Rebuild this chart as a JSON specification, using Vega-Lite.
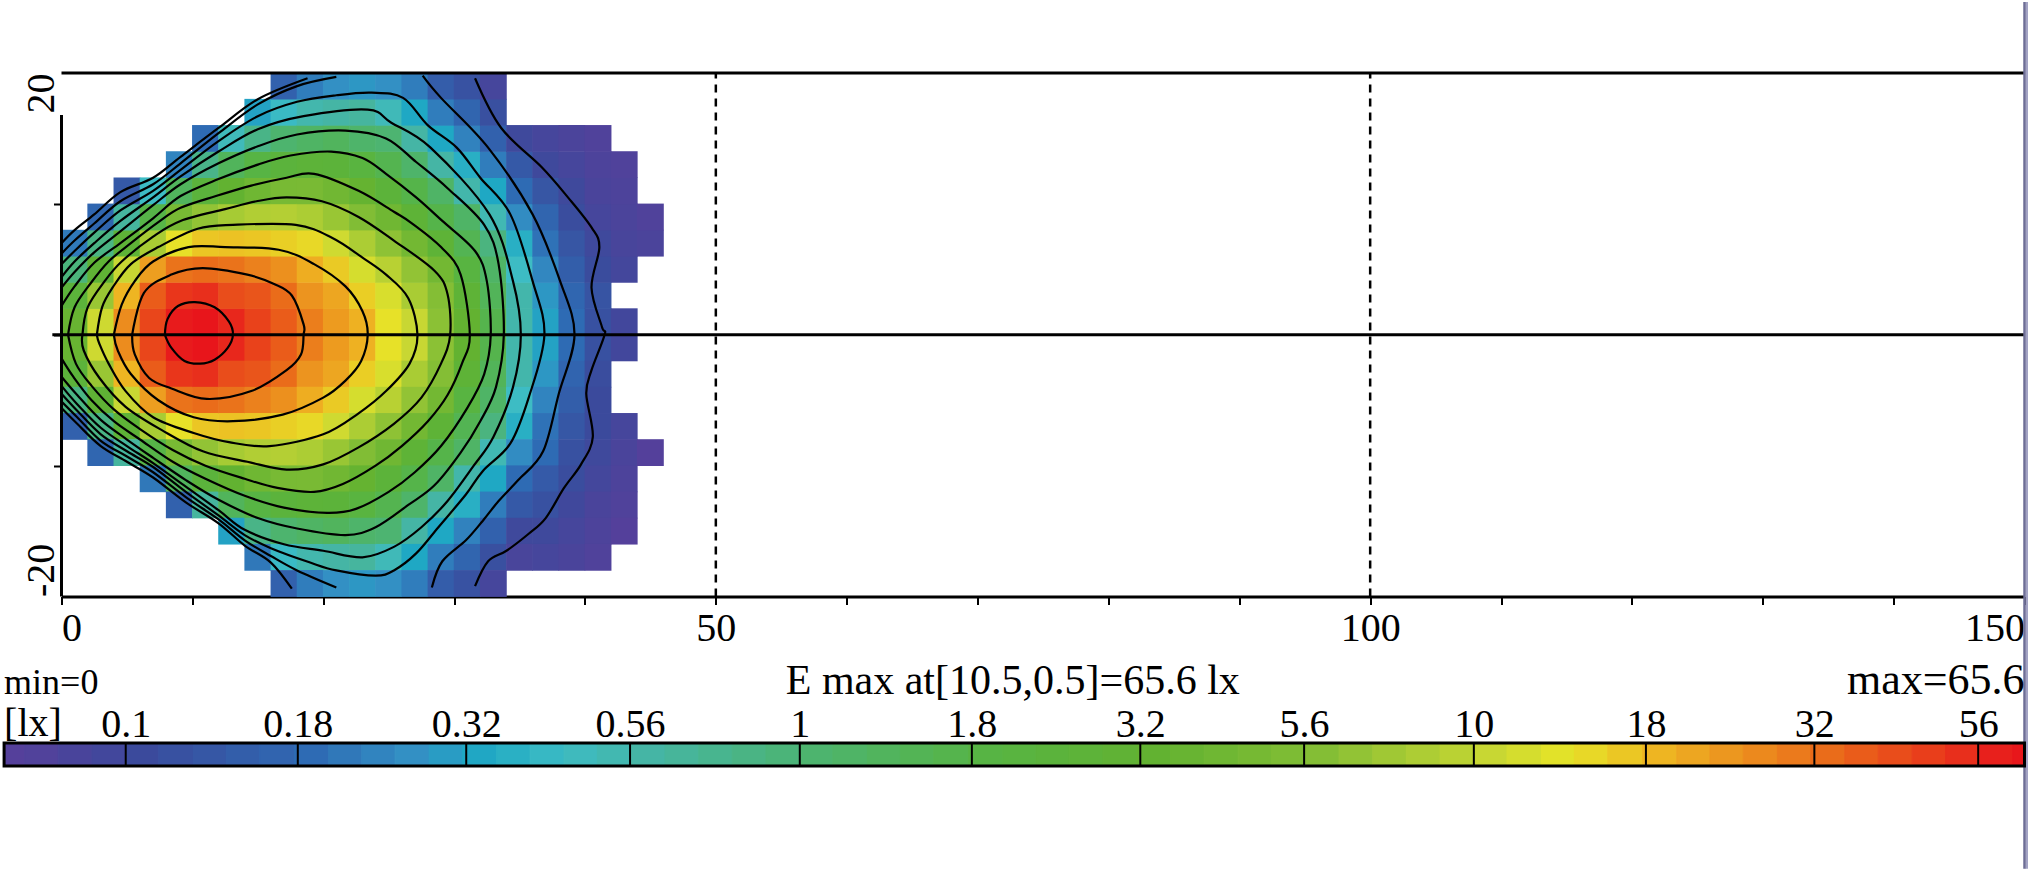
{"$schema":"https://vega.github.io/schema/vega-lite/v6.json","background":"white","padding":{"left":2.5,"top":0,"right":0,"bottom":0},"bounds":"flush","spacing":146,"config":{"view":{"stroke":null},"font":"Liberation Serif"},"vconcat":[{"width":1963,"height":523.6,"layer":[{"data":{"values":[{"x":1,"y":1,"v":3.55},{"x":1,"y":3,"v":2.3},{"x":1,"y":5,"v":0.87},{"x":1,"y":7,"v":0.205},{"x":1,"y":-1,"v":3.55},{"x":1,"y":-3,"v":2.3},{"x":1,"y":-5,"v":0.8},{"x":1,"y":-7,"v":0.15},{"x":3,"y":1,"v":10.5},{"x":3,"y":3,"v":6.7},{"x":3,"y":5,"v":2.8},{"x":3,"y":7,"v":0.79},{"x":3,"y":9,"v":0.163},{"x":3,"y":-1,"v":10.5},{"x":3,"y":-3,"v":6.7},{"x":3,"y":-5,"v":2.8},{"x":3,"y":-7,"v":0.79},{"x":3,"y":-9,"v":0.163},{"x":5,"y":1,"v":24.4},{"x":5,"y":3,"v":17.8},{"x":5,"y":5,"v":10},{"x":5,"y":7,"v":2.6},{"x":5,"y":9,"v":0.6},{"x":5,"y":11,"v":0.13},{"x":5,"y":-1,"v":24.4},{"x":5,"y":-3,"v":17.8},{"x":5,"y":-5,"v":10},{"x":5,"y":-7,"v":2.6},{"x":5,"y":-9,"v":0.6},{"x":7,"y":1,"v":42},{"x":7,"y":3,"v":35.5},{"x":7,"y":5,"v":21.2},{"x":7,"y":7,"v":7.7},{"x":7,"y":9,"v":1.68},{"x":7,"y":11,"v":0.42},{"x":7,"y":-1,"v":42},{"x":7,"y":-3,"v":35.5},{"x":7,"y":-5,"v":21.2},{"x":7,"y":-7,"v":7.7},{"x":7,"y":-9,"v":1.68},{"x":7,"y":-11,"v":0.2},{"x":9,"y":1,"v":59.5},{"x":9,"y":3,"v":47.3},{"x":9,"y":5,"v":29.9},{"x":9,"y":7,"v":13.3},{"x":9,"y":9,"v":4.6},{"x":9,"y":11,"v":1.26},{"x":9,"y":13,"v":0.225},{"x":9,"y":-1,"v":59.5},{"x":9,"y":-3,"v":47.3},{"x":9,"y":-5,"v":29.9},{"x":9,"y":-7,"v":13.3},{"x":9,"y":-9,"v":4.6},{"x":9,"y":-11,"v":1.26},{"x":9,"y":-13,"v":0.15},{"x":11,"y":1,"v":65},{"x":11,"y":3,"v":50},{"x":11,"y":5,"v":31.6},{"x":11,"y":7,"v":15.9},{"x":11,"y":9,"v":6.3},{"x":11,"y":11,"v":2.24},{"x":11,"y":13,"v":0.75},{"x":11,"y":15,"v":0.178},{"x":11,"y":-1,"v":65},{"x":11,"y":-3,"v":50},{"x":11,"y":-5,"v":31.6},{"x":11,"y":-7,"v":15.9},{"x":11,"y":-9,"v":6.3},{"x":11,"y":-11,"v":2.24},{"x":11,"y":-13,"v":0.6},{"x":13,"y":1,"v":53},{"x":13,"y":3,"v":39.8},{"x":13,"y":5,"v":29.9},{"x":13,"y":7,"v":16.3},{"x":13,"y":9,"v":7.5},{"x":13,"y":11,"v":3.16},{"x":13,"y":13,"v":1.3},{"x":13,"y":15,"v":0.46},{"x":13,"y":-1,"v":53},{"x":13,"y":-3,"v":39.8},{"x":13,"y":-5,"v":29.9},{"x":13,"y":-7,"v":16.3},{"x":13,"y":-9,"v":7.5},{"x":13,"y":-11,"v":3.16},{"x":13,"y":-13,"v":1.3},{"x":13,"y":-15,"v":0.3},{"x":15,"y":1,"v":43.4},{"x":15,"y":3,"v":37.6},{"x":15,"y":5,"v":26.6},{"x":15,"y":7,"v":15.9},{"x":15,"y":9,"v":8.2},{"x":15,"y":11,"v":3.98},{"x":15,"y":13,"v":1.78},{"x":15,"y":15,"v":0.77},{"x":15,"y":17,"v":0.3},{"x":15,"y":-1,"v":43.4},{"x":15,"y":-3,"v":37.6},{"x":15,"y":-5,"v":26.6},{"x":15,"y":-7,"v":15.9},{"x":15,"y":-9,"v":8.2},{"x":15,"y":-11,"v":3.98},{"x":15,"y":-13,"v":1.78},{"x":15,"y":-15,"v":0.77},{"x":15,"y":-17,"v":0.2},{"x":17,"y":1,"v":35.5},{"x":17,"y":3,"v":31.6},{"x":17,"y":5,"v":23.7},{"x":17,"y":7,"v":14.9},{"x":17,"y":9,"v":8.4},{"x":17,"y":11,"v":4.6},{"x":17,"y":13,"v":2.24},{"x":17,"y":15,"v":1},{"x":17,"y":17,"v":0.41},{"x":17,"y":19,"v":0.15},{"x":17,"y":-1,"v":35.5},{"x":17,"y":-3,"v":31.6},{"x":17,"y":-5,"v":23.7},{"x":17,"y":-7,"v":14.9},{"x":17,"y":-9,"v":8.4},{"x":17,"y":-11,"v":4.6},{"x":17,"y":-13,"v":2.24},{"x":17,"y":-15,"v":1},{"x":17,"y":-17,"v":0.41},{"x":17,"y":-19,"v":0.15},{"x":19,"y":1,"v":27.4},{"x":19,"y":3,"v":23},{"x":19,"y":5,"v":18.8},{"x":19,"y":7,"v":14.1},{"x":19,"y":9,"v":7.9},{"x":19,"y":11,"v":4.7},{"x":19,"y":13,"v":2.44},{"x":19,"y":15,"v":1.15},{"x":19,"y":17,"v":0.52},{"x":19,"y":19,"v":0.21},{"x":19,"y":-1,"v":27.4},{"x":19,"y":-3,"v":23},{"x":19,"y":-5,"v":18.8},{"x":19,"y":-7,"v":14.1},{"x":19,"y":-9,"v":7.9},{"x":19,"y":-11,"v":4.7},{"x":19,"y":-13,"v":2.44},{"x":19,"y":-15,"v":1.15},{"x":19,"y":-17,"v":0.52},{"x":19,"y":-19,"v":0.21},{"x":21,"y":1,"v":21.8},{"x":21,"y":3,"v":20},{"x":21,"y":5,"v":15.4},{"x":21,"y":7,"v":10.6},{"x":21,"y":9,"v":6.7},{"x":21,"y":11,"v":4.1},{"x":21,"y":13,"v":2.37},{"x":21,"y":15,"v":1.26},{"x":21,"y":17,"v":0.56},{"x":21,"y":19,"v":0.25},{"x":21,"y":-1,"v":21.8},{"x":21,"y":-3,"v":20},{"x":21,"y":-5,"v":15.4},{"x":21,"y":-7,"v":10.6},{"x":21,"y":-9,"v":6.7},{"x":21,"y":-11,"v":4.1},{"x":21,"y":-13,"v":2.37},{"x":21,"y":-15,"v":1.26},{"x":21,"y":-17,"v":0.56},{"x":21,"y":-19,"v":0.25},{"x":23,"y":1,"v":18.3},{"x":23,"y":3,"v":15},{"x":23,"y":5,"v":11.2},{"x":23,"y":7,"v":7.9},{"x":23,"y":9,"v":5.3},{"x":23,"y":11,"v":3.35},{"x":23,"y":13,"v":2},{"x":23,"y":15,"v":1.06},{"x":23,"y":17,"v":0.6},{"x":23,"y":19,"v":0.27},{"x":23,"y":-1,"v":18.3},{"x":23,"y":-3,"v":15},{"x":23,"y":-5,"v":11.2},{"x":23,"y":-7,"v":7.9},{"x":23,"y":-9,"v":5.3},{"x":23,"y":-11,"v":3.35},{"x":23,"y":-13,"v":2},{"x":23,"y":-15,"v":1.06},{"x":23,"y":-17,"v":0.6},{"x":23,"y":-19,"v":0.27},{"x":25,"y":1,"v":13.3},{"x":25,"y":3,"v":11.5},{"x":25,"y":5,"v":8.7},{"x":25,"y":7,"v":6.1},{"x":25,"y":9,"v":4},{"x":25,"y":11,"v":2.37},{"x":25,"y":13,"v":1.5},{"x":25,"y":15,"v":0.97},{"x":25,"y":17,"v":0.47},{"x":25,"y":19,"v":0.25},{"x":25,"y":-1,"v":13.3},{"x":25,"y":-3,"v":11.5},{"x":25,"y":-5,"v":8.7},{"x":25,"y":-7,"v":6.1},{"x":25,"y":-9,"v":4},{"x":25,"y":-11,"v":2.37},{"x":25,"y":-13,"v":1.5},{"x":25,"y":-15,"v":0.97},{"x":25,"y":-17,"v":0.47},{"x":25,"y":-19,"v":0.25},{"x":27,"y":1,"v":10},{"x":27,"y":3,"v":7.7},{"x":27,"y":5,"v":6.3},{"x":27,"y":7,"v":4.2},{"x":27,"y":9,"v":2.66},{"x":27,"y":11,"v":1.63},{"x":27,"y":13,"v":1.06},{"x":27,"y":15,"v":0.56},{"x":27,"y":17,"v":0.32},{"x":27,"y":19,"v":0.21},{"x":27,"y":-1,"v":10},{"x":27,"y":-3,"v":7.7},{"x":27,"y":-5,"v":6.3},{"x":27,"y":-7,"v":4.2},{"x":27,"y":-9,"v":2.66},{"x":27,"y":-11,"v":1.63},{"x":27,"y":-13,"v":1.06},{"x":27,"y":-15,"v":0.56},{"x":27,"y":-17,"v":0.32},{"x":27,"y":-19,"v":0.21},{"x":29,"y":1,"v":5.95},{"x":29,"y":3,"v":5.6},{"x":29,"y":5,"v":4.2},{"x":29,"y":7,"v":2.6},{"x":29,"y":9,"v":1.63},{"x":29,"y":11,"v":1.12},{"x":29,"y":13,"v":0.56},{"x":29,"y":15,"v":0.32},{"x":29,"y":17,"v":0.21},{"x":29,"y":19,"v":0.14},{"x":29,"y":-1,"v":5.95},{"x":29,"y":-3,"v":5.6},{"x":29,"y":-5,"v":4.2},{"x":29,"y":-7,"v":2.6},{"x":29,"y":-9,"v":1.63},{"x":29,"y":-11,"v":1.12},{"x":29,"y":-13,"v":0.56},{"x":29,"y":-15,"v":0.32},{"x":29,"y":-17,"v":0.21},{"x":29,"y":-19,"v":0.14},{"x":31,"y":1,"v":3.25},{"x":31,"y":3,"v":2.6},{"x":31,"y":5,"v":1.94},{"x":31,"y":7,"v":1.45},{"x":31,"y":9,"v":1.12},{"x":31,"y":11,"v":0.53},{"x":31,"y":13,"v":0.35},{"x":31,"y":15,"v":0.22},{"x":31,"y":17,"v":0.16},{"x":31,"y":19,"v":0.115},{"x":31,"y":-1,"v":3.25},{"x":31,"y":-3,"v":2.6},{"x":31,"y":-5,"v":1.94},{"x":31,"y":-7,"v":1.45},{"x":31,"y":-9,"v":1.12},{"x":31,"y":-11,"v":0.53},{"x":31,"y":-13,"v":0.35},{"x":31,"y":-15,"v":0.22},{"x":31,"y":-17,"v":0.16},{"x":31,"y":-19,"v":0.115},{"x":33,"y":1,"v":1.58},{"x":33,"y":3,"v":1.33},{"x":33,"y":5,"v":1.12},{"x":33,"y":7,"v":0.84},{"x":33,"y":9,"v":0.49},{"x":33,"y":11,"v":0.32},{"x":33,"y":13,"v":0.21},{"x":33,"y":15,"v":0.15},{"x":33,"y":17,"v":0.11},{"x":33,"y":19,"v":0.084},{"x":33,"y":-1,"v":1.58},{"x":33,"y":-3,"v":1.33},{"x":33,"y":-5,"v":1.12},{"x":33,"y":-7,"v":0.84},{"x":33,"y":-9,"v":0.49},{"x":33,"y":-11,"v":0.32},{"x":33,"y":-13,"v":0.21},{"x":33,"y":-15,"v":0.15},{"x":33,"y":-17,"v":0.11},{"x":33,"y":-19,"v":0.084},{"x":35,"y":1,"v":0.53},{"x":35,"y":3,"v":0.53},{"x":35,"y":5,"v":0.42},{"x":35,"y":7,"v":0.35},{"x":35,"y":9,"v":0.24},{"x":35,"y":11,"v":0.178},{"x":35,"y":13,"v":0.13},{"x":35,"y":15,"v":0.094},{"x":35,"y":-1,"v":0.53},{"x":35,"y":-3,"v":0.53},{"x":35,"y":-5,"v":0.42},{"x":35,"y":-7,"v":0.35},{"x":35,"y":-9,"v":0.24},{"x":35,"y":-11,"v":0.178},{"x":35,"y":-13,"v":0.13},{"x":35,"y":-15,"v":0.094},{"x":35,"y":-17,"v":0.08},{"x":37,"y":1,"v":0.3},{"x":37,"y":3,"v":0.27},{"x":37,"y":5,"v":0.23},{"x":37,"y":7,"v":0.19},{"x":37,"y":9,"v":0.16},{"x":37,"y":11,"v":0.122},{"x":37,"y":13,"v":0.094},{"x":37,"y":15,"v":0.084},{"x":37,"y":-1,"v":0.3},{"x":37,"y":-3,"v":0.27},{"x":37,"y":-5,"v":0.224},{"x":37,"y":-7,"v":0.19},{"x":37,"y":-9,"v":0.178},{"x":37,"y":-11,"v":0.133},{"x":37,"y":-13,"v":0.112},{"x":37,"y":-15,"v":0.094},{"x":37,"y":-17,"v":0.084},{"x":39,"y":1,"v":0.178},{"x":39,"y":3,"v":0.163},{"x":39,"y":5,"v":0.141},{"x":39,"y":7,"v":0.122},{"x":39,"y":9,"v":0.106},{"x":39,"y":11,"v":0.094},{"x":39,"y":13,"v":0.084},{"x":39,"y":15,"v":0.077},{"x":39,"y":-1,"v":0.178},{"x":39,"y":-3,"v":0.158},{"x":39,"y":-5,"v":0.141},{"x":39,"y":-7,"v":0.126},{"x":39,"y":-9,"v":0.112},{"x":39,"y":-11,"v":0.106},{"x":39,"y":-13,"v":0.092},{"x":39,"y":-15,"v":0.084},{"x":39,"y":-17,"v":0.079},{"x":41,"y":1,"v":0.112},{"x":41,"y":3,"v":0.119},{"x":41,"y":5,"v":0.103},{"x":41,"y":7,"v":0.094},{"x":41,"y":9,"v":0.084},{"x":41,"y":11,"v":0.079},{"x":41,"y":13,"v":0.075},{"x":41,"y":15,"v":0.071},{"x":41,"y":-1,"v":0.112},{"x":41,"y":-3,"v":0.106},{"x":41,"y":-5,"v":0.1},{"x":41,"y":-7,"v":0.1},{"x":41,"y":-9,"v":0.094},{"x":41,"y":-11,"v":0.087},{"x":41,"y":-13,"v":0.079},{"x":41,"y":-15,"v":0.075},{"x":41,"y":-17,"v":0.071},{"x":43,"y":1,"v":0.09},{"x":43,"y":5,"v":0.087},{"x":43,"y":7,"v":0.081},{"x":43,"y":9,"v":0.077},{"x":43,"y":11,"v":0.075},{"x":43,"y":13,"v":0.071},{"x":43,"y":-1,"v":0.09},{"x":43,"y":-7,"v":0.084},{"x":43,"y":-9,"v":0.079},{"x":43,"y":-11,"v":0.075},{"x":43,"y":-13,"v":0.071},{"x":43,"y":-15,"v":0.067},{"x":45,"y":7,"v":0.077},{"x":45,"y":9,"v":0.071},{"x":45,"y":-9,"v":0.067}]},"mark":{"type":"rect","width":26.8,"height":26.8},"encoding":{"x":{"field":"x","type":"quantitative","scale":{"domain":[0,150],"nice":false,"zero":false},"axis":{"values":[0,10,20,30,40,50,60,70,80,90,100,110,120,130,140,150],"title":null,"grid":false,"domainColor":"black","domainWidth":3,"tickColor":"black","tickWidth":2,"tickSize":8,"labelFont":"Liberation Serif","labelFontSize":40,"labelColor":"black","labelBaseline":"alphabetic","labelPadding":36,"labelFlush":false,"labelOverlap":false,"labelExpr":"datum.value%50==0?datum.label:''","labelAlign":{"condition":[{"test":"datum.value==150","value":"right"},{"test":"datum.value==0","value":"left"}],"value":"center"}}},"y":{"field":"y","type":"quantitative","scale":{"domain":[-20,20],"nice":false,"zero":false},"axis":{"values":[-20,-10,0,10,20],"title":null,"grid":false,"domain":false,"tickColor":"black","tickWidth":2,"tickSize":8,"tickOpacity":{"condition":{"test":"abs(datum.value)==20","value":0},"value":1},"labelFont":"Liberation Serif","labelFontSize":40,"labelColor":"black","labelAngle":-90,"labelBaseline":"alphabetic","labelPadding":0,"labelFlush":false,"labelOverlap":false,"labelExpr":"datum.value==20?'20':datum.value==-20?'-20':''","labelAlign":{"condition":{"test":"datum.value==20","value":"right"},"value":"left"}}},"color":{"field":"v","type":"quantitative","legend":null,"scale":{"type":"log","domain":[0.066,0.1,0.18,0.25,0.32,0.42,0.56,1,1.8,3.2,5.6,10,13,18,32,56,65.6],"range":["#55409b","#3b4a9c","#2e6cb4","#3390c4","#1fa8c4","#3dbcc4","#45b5a5","#4db46e","#57b443","#62b231","#84be35","#c8d733","#e6e428","#eeb322","#ea6a1a","#e8201c","#e8141b"],"interpolate":"rgb"}}}},{"data":{"values":[{"c":"56","s":1,"x":7.9,"y":0},{"c":"56","s":2,"x":8.1,"y":1.2},{"c":"56","s":3,"x":8.9,"y":2.2},{"c":"56","s":4,"x":10.2,"y":2.5},{"c":"56","s":5,"x":11.7,"y":2.1},{"c":"56","s":6,"x":12.8,"y":1},{"c":"56","s":7,"x":13.1,"y":0},{"c":"56","s":8,"x":12.7,"y":-1},{"c":"56","s":9,"x":11.7,"y":-1.9},{"c":"56","s":10,"x":10.6,"y":-2.2},{"c":"56","s":11,"x":9.4,"y":-2},{"c":"56","s":12,"x":8.4,"y":-1},{"c":"56","s":13,"x":7.9,"y":0},{"c":"32","s":1,"x":5.4,"y":0},{"c":"32","s":2,"x":6.3,"y":3.2},{"c":"32","s":3,"x":8.4,"y":4.6},{"c":"32","s":4,"x":10.8,"y":5.1},{"c":"32","s":5,"x":14.2,"y":4.6},{"c":"32","s":6,"x":16.2,"y":3.9},{"c":"32","s":7,"x":17.6,"y":3},{"c":"32","s":8,"x":18.5,"y":0.8},{"c":"32","s":9,"x":18.5,"y":0},{"c":"32","s":10,"x":18.3,"y":-1.5},{"c":"32","s":11,"x":17.2,"y":-2.7},{"c":"32","s":12,"x":14.5,"y":-4.3},{"c":"32","s":13,"x":11.1,"y":-4.9},{"c":"32","s":14,"x":8.4,"y":-4.1},{"c":"32","s":15,"x":6.7,"y":-3.3},{"c":"32","s":16,"x":5.6,"y":-1.5},{"c":"32","s":17,"x":5.4,"y":0},{"c":"18","s":1,"x":4,"y":0},{"c":"18","s":2,"x":4.6,"y":2.3},{"c":"18","s":3,"x":5.6,"y":4.1},{"c":"18","s":4,"x":7,"y":5.6},{"c":"18","s":5,"x":9.7,"y":6.7},{"c":"18","s":6,"x":12.5,"y":6.7},{"c":"18","s":7,"x":16.6,"y":6.5},{"c":"18","s":8,"x":19.3,"y":5.4},{"c":"18","s":9,"x":21.7,"y":3.7},{"c":"18","s":10,"x":23,"y":1.8},{"c":"18","s":11,"x":23.4,"y":0},{"c":"18","s":12,"x":22.9,"y":-2},{"c":"18","s":13,"x":21.7,"y":-3.5},{"c":"18","s":14,"x":20,"y":-4.8},{"c":"18","s":15,"x":16.9,"y":-6.1},{"c":"18","s":16,"x":13.1,"y":-6.6},{"c":"18","s":17,"x":10.1,"y":-6.3},{"c":"18","s":18,"x":7.4,"y":-5},{"c":"18","s":19,"x":5.3,"y":-3},{"c":"18","s":20,"x":4.3,"y":-1.2},{"c":"18","s":21,"x":4,"y":0},{"c":"10","s":1,"x":2.7,"y":0},{"c":"10","s":2,"x":3.1,"y":2.1},{"c":"10","s":3,"x":3.9,"y":3.6},{"c":"10","s":4,"x":5.3,"y":5.4},{"c":"10","s":5,"x":7.4,"y":6.7},{"c":"10","s":6,"x":10.4,"y":8.1},{"c":"10","s":7,"x":13.1,"y":8.4},{"c":"10","s":8,"x":17.9,"y":8.4},{"c":"10","s":9,"x":20.7,"y":7.4},{"c":"10","s":10,"x":23,"y":5.9},{"c":"10","s":11,"x":24.8,"y":4.6},{"c":"10","s":12,"x":26.5,"y":2.8},{"c":"10","s":13,"x":27.2,"y":0},{"c":"10","s":14,"x":26.6,"y":-2.2},{"c":"10","s":15,"x":24.8,"y":-4.3},{"c":"10","s":16,"x":22.7,"y":-6},{"c":"10","s":17,"x":20,"y":-7.6},{"c":"10","s":18,"x":15.9,"y":-8.5},{"c":"10","s":19,"x":12.8,"y":-8.2},{"c":"10","s":20,"x":10.1,"y":-7.5},{"c":"10","s":21,"x":7,"y":-6.3},{"c":"10","s":22,"x":4.9,"y":-4.3},{"c":"10","s":23,"x":3.6,"y":-2.2},{"c":"10","s":24,"x":2.9,"y":-0.7},{"c":"10","s":25,"x":2.7,"y":0},{"c":"5.6","s":1,"x":1.6,"y":0},{"c":"5.6","s":2,"x":2,"y":2.1},{"c":"5.6","s":3,"x":3.3,"y":4.1},{"c":"5.6","s":4,"x":4.6,"y":5.6},{"c":"5.6","s":5,"x":7,"y":7.5},{"c":"5.6","s":6,"x":9.1,"y":8.7},{"c":"5.6","s":7,"x":12.5,"y":9.6},{"c":"5.6","s":8,"x":14.9,"y":10.2},{"c":"5.6","s":9,"x":17.2,"y":10.5},{"c":"5.6","s":10,"x":19.9,"y":10.2},{"c":"5.6","s":11,"x":22.7,"y":9},{"c":"5.6","s":12,"x":25.4,"y":7.2},{"c":"5.6","s":13,"x":28.5,"y":4.9},{"c":"5.6","s":14,"x":29.5,"y":3.1},{"c":"5.6","s":15,"x":29.7,"y":0},{"c":"5.6","s":16,"x":29,"y":-2.2},{"c":"5.6","s":17,"x":27.5,"y":-4.8},{"c":"5.6","s":18,"x":25.4,"y":-6.8},{"c":"5.6","s":19,"x":22.7,"y":-8.6},{"c":"5.6","s":20,"x":20,"y":-9.9},{"c":"5.6","s":21,"x":17.2,"y":-10.3},{"c":"5.6","s":22,"x":14.2,"y":-9.7},{"c":"5.6","s":23,"x":10.8,"y":-8.9},{"c":"5.6","s":24,"x":7.7,"y":-7.3},{"c":"5.6","s":25,"x":4.9,"y":-5.5},{"c":"5.6","s":26,"x":2.9,"y":-3.3},{"c":"5.6","s":27,"x":1.7,"y":-1.2},{"c":"5.6","s":28,"x":1.6,"y":0},{"c":"3.2","s":1,"x":0.5,"y":0},{"c":"3.2","s":2,"x":1,"y":2.1},{"c":"3.2","s":3,"x":2.2,"y":3.9},{"c":"3.2","s":4,"x":3.6,"y":5.6},{"c":"3.2","s":5,"x":5.3,"y":7},{"c":"3.2","s":6,"x":7.4,"y":8.6},{"c":"3.2","s":7,"x":9.1,"y":9.7},{"c":"3.2","s":8,"x":11.8,"y":10.6},{"c":"3.2","s":9,"x":14.5,"y":11.4},{"c":"3.2","s":10,"x":17.2,"y":12},{"c":"3.2","s":11,"x":19.3,"y":12.3},{"c":"3.2","s":12,"x":22.7,"y":11},{"c":"3.2","s":13,"x":25.4,"y":9.4},{"c":"3.2","s":14,"x":26.8,"y":8.5},{"c":"3.2","s":15,"x":29,"y":6.7},{"c":"3.2","s":16,"x":30.5,"y":4.6},{"c":"3.2","s":17,"x":31.2,"y":0},{"c":"3.2","s":18,"x":30.6,"y":-2.2},{"c":"3.2","s":19,"x":29.5,"y":-4.6},{"c":"3.2","s":20,"x":28,"y":-6.6},{"c":"3.2","s":21,"x":26,"y":-8.5},{"c":"3.2","s":22,"x":24,"y":-10},{"c":"3.2","s":23,"x":21.5,"y":-11.4},{"c":"3.2","s":24,"x":19.3,"y":-12},{"c":"3.2","s":25,"x":16.5,"y":-11.7},{"c":"3.2","s":26,"x":14,"y":-11},{"c":"3.2","s":27,"x":11,"y":-10},{"c":"3.2","s":28,"x":8.5,"y":-8.8},{"c":"3.2","s":29,"x":6,"y":-7.2},{"c":"3.2","s":30,"x":4,"y":-5.7},{"c":"3.2","s":31,"x":2.3,"y":-3.9},{"c":"3.2","s":32,"x":1.1,"y":-2.2},{"c":"3.2","s":33,"x":0.5,"y":0},{"c":"1.8","s":1,"x":0,"y":2.2},{"c":"1.8","s":2,"x":1,"y":3.7},{"c":"1.8","s":3,"x":2.5,"y":5.5},{"c":"1.8","s":4,"x":4.5,"y":7},{"c":"1.8","s":5,"x":7,"y":8.9},{"c":"1.8","s":6,"x":9.1,"y":10.6},{"c":"1.8","s":7,"x":12,"y":11.9},{"c":"1.8","s":8,"x":15,"y":13},{"c":"1.8","s":9,"x":17.5,"y":13.7},{"c":"1.8","s":10,"x":20.6,"y":14},{"c":"1.8","s":11,"x":23,"y":13.5},{"c":"1.8","s":12,"x":24.8,"y":12.3},{"c":"1.8","s":13,"x":27.1,"y":10.5},{"c":"1.8","s":14,"x":29.1,"y":8.7},{"c":"1.8","s":15,"x":31.6,"y":6.4},{"c":"1.8","s":16,"x":32.5,"y":4.1},{"c":"1.8","s":17,"x":32.8,"y":0},{"c":"1.8","s":18,"x":32.3,"y":-3},{"c":"1.8","s":19,"x":31,"y":-5.6},{"c":"1.8","s":20,"x":29,"y":-8.5},{"c":"1.8","s":21,"x":27,"y":-10.5},{"c":"1.8","s":22,"x":25,"y":-12},{"c":"1.8","s":23,"x":22.5,"y":-13.3},{"c":"1.8","s":24,"x":20.3,"y":-13.6},{"c":"1.8","s":25,"x":17,"y":-13.2},{"c":"1.8","s":26,"x":14,"y":-12.3},{"c":"1.8","s":27,"x":11,"y":-11},{"c":"1.8","s":28,"x":8.5,"y":-9.7},{"c":"1.8","s":29,"x":6,"y":-8},{"c":"1.8","s":30,"x":4,"y":-6.6},{"c":"1.8","s":31,"x":2.3,"y":-5},{"c":"1.8","s":32,"x":0.9,"y":-3.2},{"c":"1.8","s":33,"x":0,"y":-1.8},{"c":"1","s":1,"x":0,"y":3.6},{"c":"1","s":2,"x":1,"y":4.8},{"c":"1","s":3,"x":2.5,"y":6.3},{"c":"1","s":4,"x":4.5,"y":7.9},{"c":"1","s":5,"x":7,"y":9.9},{"c":"1","s":6,"x":9.1,"y":11.5},{"c":"1","s":7,"x":12,"y":13.1},{"c":"1","s":8,"x":15,"y":14.4},{"c":"1","s":9,"x":18,"y":15.3},{"c":"1","s":10,"x":21.7,"y":15.6},{"c":"1","s":11,"x":24.8,"y":15},{"c":"1","s":12,"x":27.1,"y":13.2},{"c":"1","s":13,"x":29.5,"y":11.2},{"c":"1","s":14,"x":32.3,"y":8.4},{"c":"1","s":15,"x":33.4,"y":5.4},{"c":"1","s":16,"x":33.8,"y":0},{"c":"1","s":17,"x":33.2,"y":-4},{"c":"1","s":18,"x":32,"y":-6.6},{"c":"1","s":19,"x":30.5,"y":-9},{"c":"1","s":20,"x":28.5,"y":-11.5},{"c":"1","s":21,"x":26.5,"y":-13},{"c":"1","s":22,"x":24,"y":-14.7},{"c":"1","s":23,"x":21.7,"y":-15.3},{"c":"1","s":24,"x":18,"y":-14.8},{"c":"1","s":25,"x":15,"y":-14},{"c":"1","s":26,"x":12,"y":-12.6},{"c":"1","s":27,"x":9.5,"y":-11.1},{"c":"1","s":28,"x":7,"y":-9.4},{"c":"1","s":29,"x":5,"y":-8},{"c":"1","s":30,"x":3,"y":-6.5},{"c":"1","s":31,"x":1.2,"y":-4.6},{"c":"1","s":32,"x":0,"y":-3.2},{"c":"0.56","s":1,"x":0,"y":4.4},{"c":"0.56","s":2,"x":1,"y":5.6},{"c":"0.56","s":3,"x":2.5,"y":7},{"c":"0.56","s":4,"x":4.5,"y":8.7},{"c":"0.56","s":5,"x":7,"y":10.5},{"c":"0.56","s":6,"x":9.1,"y":12.1},{"c":"0.56","s":7,"x":12,"y":14},{"c":"0.56","s":8,"x":15,"y":15.7},{"c":"0.56","s":9,"x":18.5,"y":16.7},{"c":"0.56","s":10,"x":23.4,"y":17.2},{"c":"0.56","s":11,"x":25.2,"y":16.2},{"c":"0.56","s":12,"x":28.2,"y":14.3},{"c":"0.56","s":13,"x":32.7,"y":9.2},{"c":"0.56","s":14,"x":34.5,"y":4.1},{"c":"0.56","s":15,"x":35.1,"y":0},{"c":"0.56","s":16,"x":34.5,"y":-4},{"c":"0.56","s":17,"x":33,"y":-7.8},{"c":"0.56","s":18,"x":31.5,"y":-10},{"c":"0.56","s":19,"x":29.5,"y":-12.7},{"c":"0.56","s":20,"x":27.5,"y":-14.7},{"c":"0.56","s":21,"x":25.4,"y":-16.2},{"c":"0.56","s":22,"x":23,"y":-17},{"c":"0.56","s":23,"x":20,"y":-16.5},{"c":"0.56","s":24,"x":17,"y":-16},{"c":"0.56","s":25,"x":14,"y":-14.9},{"c":"0.56","s":26,"x":12,"y":-13.4},{"c":"0.56","s":27,"x":9.5,"y":-11.6},{"c":"0.56","s":28,"x":7,"y":-9.8},{"c":"0.56","s":29,"x":5,"y":-8.5},{"c":"0.56","s":30,"x":3,"y":-7.1},{"c":"0.56","s":31,"x":1.2,"y":-5.3},{"c":"0.56","s":32,"x":0,"y":-3.9},{"c":"0.32","s":1,"x":0,"y":5.4},{"c":"0.32","s":2,"x":1,"y":6.4},{"c":"0.32","s":3,"x":2.5,"y":7.8},{"c":"0.32","s":4,"x":4.5,"y":9.5},{"c":"0.32","s":5,"x":7,"y":11},{"c":"0.32","s":6,"x":9.1,"y":12.6},{"c":"0.32","s":7,"x":12,"y":14.8},{"c":"0.32","s":8,"x":15,"y":16.7},{"c":"0.32","s":9,"x":18,"y":17.8},{"c":"0.32","s":10,"x":21,"y":18.3},{"c":"0.32","s":11,"x":23.7,"y":18.5},{"c":"0.32","s":12,"x":26.1,"y":18.1},{"c":"0.32","s":13,"x":28,"y":16},{"c":"0.32","s":14,"x":30.2,"y":14.3},{"c":"0.32","s":15,"x":32,"y":12},{"c":"0.32","s":16,"x":34.3,"y":9.2},{"c":"0.32","s":17,"x":36,"y":4.1},{"c":"0.32","s":18,"x":36.9,"y":0},{"c":"0.32","s":19,"x":35.7,"y":-4.8},{"c":"0.32","s":20,"x":34.3,"y":-8.3},{"c":"0.32","s":21,"x":32.2,"y":-10.4},{"c":"0.32","s":22,"x":30.9,"y":-12.2},{"c":"0.32","s":23,"x":28.8,"y":-14.7},{"c":"0.32","s":24,"x":27.1,"y":-16.7},{"c":"0.32","s":25,"x":25.4,"y":-18},{"c":"0.32","s":26,"x":24,"y":-18.4},{"c":"0.32","s":27,"x":21,"y":-18},{"c":"0.32","s":28,"x":19,"y":-17.4},{"c":"0.32","s":29,"x":16,"y":-16.3},{"c":"0.32","s":30,"x":14,"y":-15.3},{"c":"0.32","s":31,"x":12,"y":-13.8},{"c":"0.32","s":32,"x":9.5,"y":-12},{"c":"0.32","s":33,"x":7,"y":-10.1},{"c":"0.32","s":34,"x":5,"y":-8.9},{"c":"0.32","s":35,"x":3,"y":-7.6},{"c":"0.32","s":36,"x":1.2,"y":-5.8},{"c":"0.32","s":37,"x":0,"y":-4.5},{"c":"0.18a","s":1,"x":0,"y":6.2},{"c":"0.18a","s":2,"x":1,"y":7.2},{"c":"0.18a","s":3,"x":2.5,"y":8.5},{"c":"0.18a","s":4,"x":4.5,"y":10.2},{"c":"0.18a","s":5,"x":7,"y":11.5},{"c":"0.18a","s":6,"x":9.1,"y":13.1},{"c":"0.18a","s":7,"x":12,"y":15.4},{"c":"0.18a","s":8,"x":15,"y":17.6},{"c":"0.18a","s":9,"x":18,"y":19},{"c":"0.18a","s":10,"x":21,"y":19.7},{"c":"0.18b","s":1,"x":27.6,"y":19.8},{"c":"0.18b","s":2,"x":29,"y":18.1},{"c":"0.18b","s":3,"x":32.6,"y":14.3},{"c":"0.18b","s":4,"x":36,"y":9.2},{"c":"0.18b","s":5,"x":38.1,"y":4.1},{"c":"0.18b","s":6,"x":39.2,"y":0},{"c":"0.18b","s":7,"x":38,"y":-4.5},{"c":"0.18b","s":8,"x":36.8,"y":-8.9},{"c":"0.18b","s":9,"x":34.9,"y":-11.1},{"c":"0.18b","s":10,"x":33.4,"y":-12.7},{"c":"0.18b","s":11,"x":32.2,"y":-14.2},{"c":"0.18b","s":12,"x":30.9,"y":-15.7},{"c":"0.18b","s":13,"x":29.1,"y":-17.3},{"c":"0.18b","s":14,"x":28.3,"y":-19.3},{"c":"0.18c","s":1,"x":21,"y":-19.3},{"c":"0.18c","s":2,"x":18,"y":-18},{"c":"0.18c","s":3,"x":16,"y":-16.9},{"c":"0.18c","s":4,"x":14,"y":-15.7},{"c":"0.18c","s":5,"x":12,"y":-14.1},{"c":"0.18c","s":6,"x":9.5,"y":-12.4},{"c":"0.18c","s":7,"x":7,"y":-10.5},{"c":"0.18c","s":8,"x":5,"y":-9.3},{"c":"0.18c","s":9,"x":3,"y":-8.1},{"c":"0.18c","s":10,"x":1.2,"y":-6.3},{"c":"0.18c","s":11,"x":0,"y":-5.1},{"c":"0.1a","s":1,"x":0,"y":7},{"c":"0.1a","s":2,"x":1,"y":8},{"c":"0.1a","s":3,"x":2.5,"y":9.2},{"c":"0.1a","s":4,"x":4.5,"y":10.9},{"c":"0.1a","s":5,"x":7,"y":12},{"c":"0.1a","s":6,"x":9.1,"y":13.6},{"c":"0.1a","s":7,"x":12,"y":15.8},{"c":"0.1a","s":8,"x":15,"y":18},{"c":"0.1a","s":9,"x":18.8,"y":19.6},{"c":"0.1b","s":1,"x":31.6,"y":19.6},{"c":"0.1b","s":2,"x":33.6,"y":15.8},{"c":"0.1b","s":3,"x":36.7,"y":12.8},{"c":"0.1b","s":4,"x":38.7,"y":10.5},{"c":"0.1b","s":5,"x":40.5,"y":8.2},{"c":"0.1b","s":6,"x":41.1,"y":6.7},{"c":"0.1b","s":7,"x":40.5,"y":3.6},{"c":"0.1b","s":8,"x":41.3,"y":0.6},{"c":"0.1b","s":9,"x":41.5,"y":0},{"c":"0.1b","s":10,"x":40.5,"y":-2.7},{"c":"0.1b","s":11,"x":40.1,"y":-4.5},{"c":"0.1b","s":12,"x":40.6,"y":-7.8},{"c":"0.1b","s":13,"x":39.7,"y":-9.9},{"c":"0.1b","s":14,"x":38.4,"y":-11.7},{"c":"0.1b","s":15,"x":37,"y":-14},{"c":"0.1b","s":16,"x":35.7,"y":-15.2},{"c":"0.1b","s":17,"x":34,"y":-16.5},{"c":"0.1b","s":18,"x":32.6,"y":-17.3},{"c":"0.1b","s":19,"x":31.6,"y":-19.2},{"c":"0.1c","s":1,"x":17.6,"y":-19.4},{"c":"0.1c","s":2,"x":16,"y":-17.4},{"c":"0.1c","s":3,"x":14,"y":-16.1},{"c":"0.1c","s":4,"x":12,"y":-14.4},{"c":"0.1c","s":5,"x":9.5,"y":-12.8},{"c":"0.1c","s":6,"x":7,"y":-10.9},{"c":"0.1c","s":7,"x":5,"y":-9.7},{"c":"0.1c","s":8,"x":3,"y":-8.5},{"c":"0.1c","s":9,"x":1.2,"y":-6.8},{"c":"0.1c","s":10,"x":0,"y":-5.6}]},"mark":{"type":"line","color":"black","strokeWidth":2.2,"interpolate":"cardinal"},"encoding":{"x":{"field":"x","type":"quantitative"},"y":{"field":"y","type":"quantitative"},"detail":{"field":"c"},"order":{"field":"s"}}},{"data":{"values":[{"x":50,"y":-20,"y2":20},{"x":100,"y":-20,"y2":20}]},"mark":{"type":"rule","color":"black","strokeWidth":2.5,"strokeDash":[8,6]},"encoding":{"x":{"field":"x","type":"quantitative"},"y":{"field":"y","type":"quantitative"},"y2":{"field":"y2"}}},{"data":{"values":[{"x":-0.7,"x2":150,"y":0},{"x":0,"x2":150,"y":20}]},"mark":{"type":"rule","color":"black","strokeWidth":3},"encoding":{"x":{"field":"x","type":"quantitative"},"x2":{"field":"x2"},"y":{"field":"y","type":"quantitative"}}},{"data":{"values":[{"x":0,"y":-20,"y2":16.8}]},"mark":{"type":"rule","color":"black","strokeWidth":3},"encoding":{"x":{"field":"x","type":"quantitative"},"y":{"field":"y","type":"quantitative"},"y2":{"field":"y2"}}},{"data":{"values":[{"x":150.23,"y":-40.8,"y2":25.42}]},"mark":{"type":"rule","color":"#a3a3c4","strokeWidth":4},"encoding":{"x":{"field":"x","type":"quantitative"},"y":{"field":"y","type":"quantitative"},"y2":{"field":"y2"}}},{"data":{"values":[{"x":150,"y":-40.8,"y2":25.42}]},"mark":{"type":"rule","color":"#6e6e96","strokeWidth":2.5},"encoding":{"x":{"field":"x","type":"quantitative"},"y":{"field":"y","type":"quantitative"},"y2":{"field":"y2"}}}]},{"width":1963,"height":23,"layer":[{"data":{"values":[{"lo":0.066,"hi":0.0708},{"lo":0.0708,"hi":0.0794},{"lo":0.0794,"hi":0.0891},{"lo":0.0891,"hi":0.1},{"lo":0.1,"hi":0.112},{"lo":0.112,"hi":0.126},{"lo":0.126,"hi":0.141},{"lo":0.141,"hi":0.158},{"lo":0.158,"hi":0.178},{"lo":0.178,"hi":0.2},{"lo":0.2,"hi":0.224},{"lo":0.224,"hi":0.251},{"lo":0.251,"hi":0.282},{"lo":0.282,"hi":0.316},{"lo":0.316,"hi":0.355},{"lo":0.355,"hi":0.398},{"lo":0.398,"hi":0.447},{"lo":0.447,"hi":0.501},{"lo":0.501,"hi":0.562},{"lo":0.562,"hi":0.631},{"lo":0.631,"hi":0.708},{"lo":0.708,"hi":0.794},{"lo":0.794,"hi":0.891},{"lo":0.891,"hi":1},{"lo":1,"hi":1.12},{"lo":1.12,"hi":1.26},{"lo":1.26,"hi":1.41},{"lo":1.41,"hi":1.58},{"lo":1.58,"hi":1.78},{"lo":1.78,"hi":2},{"lo":2,"hi":2.24},{"lo":2.24,"hi":2.51},{"lo":2.51,"hi":2.82},{"lo":2.82,"hi":3.16},{"lo":3.16,"hi":3.55},{"lo":3.55,"hi":3.98},{"lo":3.98,"hi":4.47},{"lo":4.47,"hi":5.01},{"lo":5.01,"hi":5.62},{"lo":5.62,"hi":6.31},{"lo":6.31,"hi":7.08},{"lo":7.08,"hi":7.94},{"lo":7.94,"hi":8.91},{"lo":8.91,"hi":10},{"lo":10,"hi":11.2},{"lo":11.2,"hi":12.6},{"lo":12.6,"hi":14.1},{"lo":14.1,"hi":15.8},{"lo":15.8,"hi":17.8},{"lo":17.8,"hi":20},{"lo":20,"hi":22.4},{"lo":22.4,"hi":25.1},{"lo":25.1,"hi":28.2},{"lo":28.2,"hi":31.6},{"lo":31.6,"hi":35.5},{"lo":35.5,"hi":39.8},{"lo":39.8,"hi":44.7},{"lo":44.7,"hi":50.1},{"lo":50.1,"hi":56.2},{"lo":56.2,"hi":63},{"lo":63,"hi":65.6}]},"mark":{"type":"rect","strokeWidth":1},"encoding":{"x":{"field":"lo","type":"quantitative","scale":{"type":"log","domain":[0.0803,65.6],"nice":false},"axis":{"orient":"top","values":[0.1,0.18,0.32,0.56,1,1.8,3.2,5.6,10,18,32,56],"title":null,"grid":false,"domain":false,"ticks":false,"format":"~g","labelFont":"Liberation Serif","labelFontSize":40,"labelColor":"black","labelBaseline":"alphabetic","labelPadding":7,"labelFlush":false,"labelOverlap":false}},"x2":{"field":"hi"},"color":{"field":"lo","type":"quantitative","legend":null,"scale":{"type":"log","domain":[0.066,0.1,0.18,0.25,0.32,0.42,0.56,1,1.8,3.2,5.6,10,13,18,32,56,65.6],"range":["#55409b","#3b4a9c","#2e6cb4","#3390c4","#1fa8c4","#3dbcc4","#45b5a5","#4db46e","#57b443","#62b231","#84be35","#c8d733","#e6e428","#eeb322","#ea6a1a","#e8201c","#e8141b"],"interpolate":"rgb"}},"stroke":{"field":"lo","type":"quantitative","legend":null,"scale":{"type":"log","domain":[0.066,0.1,0.18,0.25,0.32,0.42,0.56,1,1.8,3.2,5.6,10,13,18,32,56,65.6],"range":["#55409b","#3b4a9c","#2e6cb4","#3390c4","#1fa8c4","#3dbcc4","#45b5a5","#4db46e","#57b443","#62b231","#84be35","#c8d733","#e6e428","#eeb322","#ea6a1a","#e8201c","#e8141b"],"interpolate":"rgb"}}}},{"data":{"values":[{"v":0.1,"b":0,"t":1},{"v":0.18,"b":0,"t":1},{"v":0.32,"b":0,"t":1},{"v":0.56,"b":0,"t":1},{"v":1,"b":0,"t":1},{"v":1.8,"b":0,"t":1},{"v":3.2,"b":0,"t":1},{"v":5.6,"b":0,"t":1},{"v":10,"b":0,"t":1},{"v":18,"b":0,"t":1},{"v":32,"b":0,"t":1},{"v":56,"b":0,"t":1}]},"mark":{"type":"rule","color":"black","strokeWidth":2},"encoding":{"x":{"field":"v","type":"quantitative"},"y":{"field":"b","type":"quantitative","scale":{"domain":[0,1],"nice":false},"axis":null},"y2":{"field":"t"}}},{"data":{"values":[{"lo":0.066,"hi":65.6,"b":0,"t":1}]},"mark":{"type":"rect","fill":null,"fillOpacity":0,"stroke":"black","strokeWidth":3},"encoding":{"x":{"field":"lo","type":"quantitative"},"x2":{"field":"hi"},"y":{"field":"b","type":"quantitative"},"y2":{"field":"t"}}},{"data":{"values":[{"x":0.066,"y":3.13,"t":"min=0"}]},"mark":{"type":"text","align":"left","baseline":"alphabetic","font":"Liberation Serif","fontSize":36,"color":"black"},"encoding":{"x":{"field":"x","type":"quantitative"},"y":{"field":"y","type":"quantitative"},"text":{"field":"t"}}},{"data":{"values":[{"x":0.066,"y":1.3,"t":"[lx]"}]},"mark":{"type":"text","align":"left","baseline":"alphabetic","font":"Liberation Serif","fontSize":40,"color":"black"},"encoding":{"x":{"field":"x","type":"quantitative"},"y":{"field":"y","type":"quantitative"},"text":{"field":"t"}}},{"data":{"values":[{"x":2.07,"y":3.13,"t":"E max at[10.5,0.5]=65.6 lx"}]},"mark":{"type":"text","align":"center","baseline":"alphabetic","font":"Liberation Serif","fontSize":42,"color":"black"},"encoding":{"x":{"field":"x","type":"quantitative"},"y":{"field":"y","type":"quantitative"},"text":{"field":"t"}}},{"data":{"values":[{"x":65.6,"y":3.13,"t":"max=65.6"}]},"mark":{"type":"text","align":"right","baseline":"alphabetic","font":"Liberation Serif","fontSize":44,"color":"black"},"encoding":{"x":{"field":"x","type":"quantitative"},"y":{"field":"y","type":"quantitative"},"text":{"field":"t"}}}]}]}
